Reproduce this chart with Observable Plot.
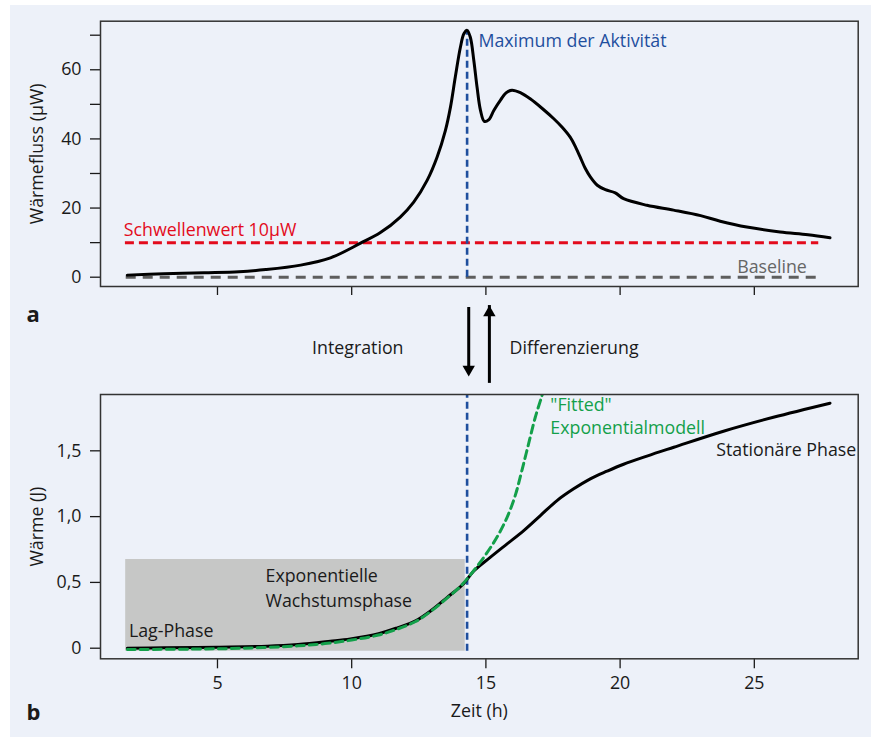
<!DOCTYPE html>
<html><head><meta charset="utf-8">
<script src="https://cdn.jsdelivr.net/npm/d3@7"></script>
<script src="https://cdn.jsdelivr.net/npm/@observablehq/plot@0.6"></script>
<style>
html,body{margin:0;padding:0;background:#fff;}
#page{position:absolute;left:10px;top:5px;width:861px;height:732px;background:#edf1f9;}
#a,#b{position:absolute;left:0;}
#a{top:0px} #b{top:385px}
svg{overflow:visible}
</style></head><body>
<div id="page"></div>
<div id="a"></div><div id="b"></div>
<script>
// ---- data ----
const xTicks = [5, 10, 15, 20, 25];
const yTicksA = [0, 10, 20, 30, 40, 50, 60, 70];
const yLabelsA = [0, 20, 40, 60];
const yTicksB = [0, 0.5, 1, 1.5];
const yLabelsB = ["0", "0,5", "1,0", "1,5"];

// Panel a: heat flow (µW) over time (h)
const fluxTime  = [1.64, 3.0, 4.5, 5.8, 6.8, 8.1, 9.21, 10.33, 11.07, 11.81, 12.31, 12.81, 13.18, 13.49, 13.68, 13.86, 14.05, 14.18, 14.3, 14.42, 14.55, 14.67, 14.8, 14.94, 15.1, 15.3, 15.55, 15.75, 15.97, 16.3, 16.65, 17.1, 17.52, 17.85, 18.14, 18.35, 18.51, 18.7, 18.89, 19.15, 19.45, 19.82, 20.13, 21.0, 21.99, 23.0, 23.73, 24.72, 25.96, 27.0, 27.82];
const fluxValue = [0.6, 1.0, 1.3, 1.6, 2.2, 3.5, 5.6, 9.84, 12.9, 17.4, 21.7, 28.0, 34.7, 42.4, 49.2, 57.9, 66.5, 70.4, 71.4, 69.4, 62.7, 55.0, 48.2, 45.1, 45.5, 48.3, 51.3, 53.3, 54.1, 53.3, 51.6, 48.8, 45.9, 43.3, 40.5, 37.5, 34.8, 31.5, 29.0, 26.6, 25.3, 24.4, 22.7, 20.8, 19.4, 17.8, 16.2, 14.5, 13.1, 12.3, 11.4];

// Panel b: cumulative heat (J)
const heatTime  = [1.64, 3.0, 5.0, 6.85, 8.0, 9.2, 9.95, 11.0, 11.7, 12.4, 12.95, 13.55, 14.17, 14.54, 15.16, 15.79, 16.41, 17.03, 17.65, 18.27, 18.89, 19.51, 20.13, 21.0, 22.0, 23.85, 25.71, 27.82];
const heatValue = [0.0, 0.003, 0.008, 0.015, 0.028, 0.053, 0.071, 0.11, 0.155, 0.21, 0.285, 0.385, 0.49, 0.585, 0.69, 0.793, 0.894, 1.008, 1.122, 1.211, 1.287, 1.345, 1.398, 1.46, 1.527, 1.649, 1.755, 1.862];

// Panel b: fitted exponential model (J)
const fitTime  = [1.64, 4.0, 6.0, 8.0, 9.0, 10.0, 11.0, 11.7, 12.4, 12.95, 13.55, 14.0, 14.3, 14.92, 15.41, 15.79, 16.1, 16.34, 16.59, 16.84, 17.09, 17.2];
const fitValue = [-0.01, -0.007, 0.0, 0.018, 0.035, 0.062, 0.1, 0.145, 0.205, 0.28, 0.38, 0.46, 0.527, 0.69, 0.843, 0.995, 1.165, 1.35, 1.553, 1.755, 1.92, 2.0];

const peak = {time: 14.3, flux: 71.4};
const threshold = {value: 10, start: 1.57, end: 27.4, label: "Schwellenwert 10µW"};
const baseline = {value: 0, start: 1.6, end: 27.45, label: "Baseline"};
const lagBox = [{x1: 1.58, x2: 14.23, y1: -0.023, y2: 0.674}];

const fluxData = fluxTime.map((t, i) => ({t, v: fluxValue[i]}));
const heatData = heatTime.map((t, i) => ({t, v: heatValue[i]}));
const fitData = fitTime.map((t, i) => ({t, v: fitValue[i]}));

const BLUE = "#1f4f9e", RED = "#e30b1c", GREEN = "#13a04a", GRAY = "#5e5e5e", INK = "#1a1a1a";
const FONT = "'Open Sans', 'Noto Sans', sans-serif";
const FS = 17.8;

// ---- panel a ----
const plotA = Plot.plot({
  width: 871, height: 385,
  marginLeft: 100, marginRight: 13.3, marginTop: 20.7, marginBottom: 99,
  x: {domain: [0.642, 28.87]},
  y: {domain: [-2.69, 74.05]},
  style: {fontFamily: FONT, fontSize: FS + "px", background: "transparent", color: INK, overflow: "visible"},
  marks: [
    Plot.axisY({ticks: yTicksA, tickSize: 10, tickPadding: 9, tickFormat: d => yLabelsA.includes(d) ? String(d) : "", label: null, strokeWidth: 1.3}),
    Plot.axisX({ticks: xTicks, tickSize: 9, tickFormat: () => "", label: null, strokeWidth: 1.3}),
    Plot.ruleY([baseline], {y: "value", x1: "start", x2: "end", stroke: GRAY, strokeWidth: 3, strokeDasharray: "10,7"}),
    Plot.ruleY([threshold], {y: "value", x1: "start", x2: "end", stroke: RED, strokeWidth: 3, strokeDasharray: "9,5"}),
    Plot.ruleX([peak], {x: "time", y1: 0, y2: "flux", stroke: BLUE, strokeWidth: 2.6, strokeDasharray: "7,4"}),
    Plot.line(fluxData, {x: "t", y: "v", stroke: "#000", strokeWidth: 3, curve: "catmull-rom"}),
    Plot.text(["Maximum der Aktivität"], {x: 14.72, y: 66.45, textAnchor: "start", lineAnchor: "bottom", fill: BLUE}),
    Plot.text([threshold.label], {x: 1.51, y: 12.06, textAnchor: "start", lineAnchor: "bottom", fill: RED}),
    Plot.text([baseline.label], {x: 24.36, y: 1.27, textAnchor: "start", lineAnchor: "bottom", fill: "#666"}),
    Plot.frame({stroke: "#333", strokeWidth: 1.5}),
    Plot.text(["Wärmefluss (µW)"], {frameAnchor: "left", dx: -63, rotate: -90, textAnchor: "middle", lineAnchor: "middle", fill: INK}),
    Plot.text(["a"], {frameAnchor: "bottom-left", dx: -74, dy: 35, textAnchor: "start", lineAnchor: "bottom", fontWeight: "bold", fontSize: 22, fill: INK}),
    // Integration / Differenzierung arrows
    Plot.ruleX([{x: 14.36, y1: -8.76, y2: -28.7}], {x: "x", y1: "y1", y2: "y2", stroke: "#000", strokeWidth: 3, insetBottom: 8}),
    Plot.dot([{x: 14.36, y: -28.7}], {x: "x", y: "y", symbol: "triangle", r: 4.6, fill: "#000", stroke: "none", rotate: 180, dy: -7.1}),
    Plot.ruleX([{x: 15.13, y1: -28.4, y2: -8.2}], {x: "x", y1: "y1", y2: "y2", stroke: "#000", strokeWidth: 3, insetTop: 8}),
    Plot.dot([{x: 15.13, y: -8.2}], {x: "x", y: "y", symbol: "triangle", r: 4.6, fill: "#000", stroke: "none", dy: 7.1}),
    Plot.text(["Integration"], {x: 11.93, y: -22.2, textAnchor: "end", lineAnchor: "bottom", fill: INK}),
    Plot.text(["Differenzierung"], {x: 15.88, y: -22.2, textAnchor: "start", lineAnchor: "bottom", fill: INK})
  ]
});
document.getElementById("a").append(plotA);

// ---- panel b ----
const plotB = Plot.plot({
  width: 871, height: 352,
  marginLeft: 100, marginRight: 13.3, marginTop: 9, marginBottom: 78.7,
  x: {domain: [0.642, 28.87]},
  y: {domain: [-0.0805, 1.928]},
  style: {fontFamily: FONT, fontSize: FS + "px", background: "transparent", color: INK, overflow: "visible"},
  marks: [
    Plot.rect(lagBox, {x1: "x1", x2: "x2", y1: "y1", y2: "y2", fill: "#c6c7c6"}),
    Plot.axisY({ticks: yTicksB, tickSize: 10, tickPadding: 9, tickFormat: d => yLabelsB[yTicksB.indexOf(d)], label: null, strokeWidth: 1.3}),
    Plot.axisX({ticks: xTicks, tickSize: 10, tickPadding: 8, tickFormat: d => String(d), label: null, strokeWidth: 1.3}),
    Plot.ruleX([peak], {x: "time", y1: -0.023, y2: 1.928, stroke: BLUE, strokeWidth: 2.6, strokeDasharray: "7,4"}),
    Plot.line(heatData, {x: "t", y: "v", stroke: "#000", strokeWidth: 3, curve: "catmull-rom"}),
    Plot.line(fitData, {x: "t", y: "v", stroke: GREEN, strokeWidth: 3, strokeDasharray: "8,5", curve: "catmull-rom", clip: true}),
    Plot.text(["Lag-Phase"], {x: 1.70, y: 0.0836, textAnchor: "start", lineAnchor: "bottom", fill: INK}),
    Plot.text(["Exponentielle\nWachstumsphase"], {x: 6.79, y: 0.3115, textAnchor: "start", lineAnchor: "bottom", lineHeight: 1.39, fill: INK}),
    Plot.text(["\"Fitted\"\nExponentialmodell"], {x: 17.40, y: 1.631, textAnchor: "start", lineAnchor: "bottom", lineHeight: 1.25, fill: GREEN}),
    Plot.text(["Stationäre Phase"], {x: 23.58, y: 1.457, textAnchor: "start", lineAnchor: "bottom", fill: INK}),
    Plot.frame({stroke: "#333", strokeWidth: 1.5}),
    Plot.text(["Wärme (J)"], {frameAnchor: "left", dx: -63, rotate: -90, textAnchor: "middle", lineAnchor: "middle", fill: INK}),
    Plot.text(["Zeit (h)"], {frameAnchor: "bottom", dy: 58.4, textAnchor: "middle", lineAnchor: "bottom", fill: INK}),
    Plot.text(["b"], {frameAnchor: "bottom-left", dx: -74, dy: 60.7, textAnchor: "start", lineAnchor: "bottom", fontWeight: "bold", fontSize: 22, fill: INK})
  ]
});
document.getElementById("b").append(plotB);
</script></body></html>
